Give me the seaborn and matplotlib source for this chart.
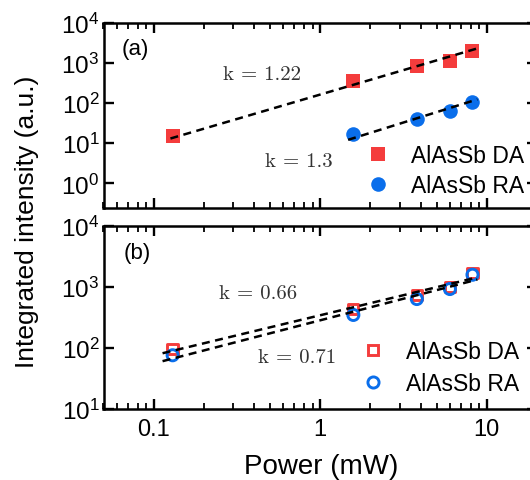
import numpy as np
import pandas as pd
import matplotlib
matplotlib.use("Agg")
import matplotlib.pyplot as plt
from matplotlib.lines import Line2D
import seaborn as sns

# ---------------- data ----------------
power_da = [0.13, 1.58, 3.8, 6.0, 8.2]
power_ra_a = [1.58, 3.8, 6.0, 8.2]
power_ra_b = [0.13, 1.58, 3.8, 6.0, 8.2]

intensity_a_da = [15, 350, 850, 1150, 2000]
intensity_a_ra = [17, 40, 65, 110]
intensity_b_da = [95, 430, 740, 1000, 1700]
intensity_b_ra = [75, 345, 630, 920, 1580]

k_a = [1.22, 1.3]
k_b = [0.66, 0.71]
series_labels = ["AlAsSb DA", "AlAsSb RA"]
x_ticks = [0.1, 1, 10]
x_tick_labels = ["0.1", "1", "10"]

RED = "#f43c3c"
BLUE = "#0a6eeb"

# ---------------- style ----------------
sns.set_style("ticks")
plt.rcParams["font.family"] = ["Liberation Sans", "DejaVu Sans"]
plt.rcParams["mathtext.fontset"] = "custom"
plt.rcParams["mathtext.rm"] = "Liberation Sans"
plt.rcParams["mathtext.it"] = "Liberation Sans:italic"
plt.rcParams["mathtext.bf"] = "Liberation Sans:bold"
plt.rcParams["axes.linewidth"] = 1.8
plt.rcParams["axes.edgecolor"] = "black"
plt.rcParams["xtick.color"] = "black"
plt.rcParams["ytick.color"] = "black"
plt.rcParams["text.color"] = "black"
plt.rcParams["xtick.labelcolor"] = "black"
plt.rcParams["ytick.labelcolor"] = "black"

W, H = 530, 481
fig = plt.figure(figsize=(W / 100, H / 100), dpi=100)
left, right = 103.5, 537
ax1 = fig.add_axes([left / W, 1 - 208.5 / H, (right - left) / W, (208.5 - 24) / H])
ax2 = fig.add_axes([left / W, 1 - 409.5 / H, (right - left) / W, (409.5 - 227) / H])


def fit_line(ax, x, y, k, lo=0.9, hi=1.07):
    lx = np.log10(np.asarray(x, float))
    ly = np.log10(np.asarray(y, float))
    b = np.mean(ly - k * lx)
    xs = np.array([min(x) * lo, max(x) * hi])
    df = pd.DataFrame({"x": xs, "y": 10 ** (b + k * np.log10(xs))})
    sns.lineplot(data=df, x="x", y="y", ax=ax, color="black", lw=1.8,
                 linestyle=(0, (3.2, 2.2)), zorder=5, legend=False)


# ---------------- panel (a) ----------------
da = pd.DataFrame({"x": power_da, "y": intensity_a_da})
ra = pd.DataFrame({"x": power_ra_a, "y": intensity_a_ra})
sns.scatterplot(data=da, x="x", y="y", ax=ax1, marker="s", color=RED, s=92,
                linewidth=0, zorder=3, legend=False)
sns.scatterplot(data=ra, x="x", y="y", ax=ax1, marker="o", color=BLUE, s=110,
                linewidth=0, zorder=3, legend=False)
fit_line(ax1, power_da, intensity_a_da, k_a[0], lo=0.97)
fit_line(ax1, power_ra_a, intensity_a_ra, k_a[1], lo=0.93)

# ---------------- panel (b) ----------------
dbb = pd.DataFrame({"x": power_da, "y": intensity_b_da})
rbb = pd.DataFrame({"x": power_ra_b, "y": intensity_b_ra})
sns.scatterplot(data=dbb, x="x", y="y", ax=ax2, marker="s", s=55,
                facecolor="none", edgecolor=RED, linewidth=2.1, zorder=3, legend=False)
sns.scatterplot(data=rbb, x="x", y="y", ax=ax2, marker="o", s=64,
                facecolor="none", edgecolor=BLUE, linewidth=2.1, zorder=4, legend=False)
fit_line(ax2, power_da, intensity_b_da, k_b[0], lo=0.87)
fit_line(ax2, power_ra_b, intensity_b_ra, k_b[1], lo=0.87)

for ax, ylim in ((ax1, (0.25, 1e4)), (ax2, (10, 1e4))):
    ax.set_xscale("log")
    ax.set_yscale("log")
    ax.set_xlim(0.05, 20)
    ax.set_ylim(*ylim)
    ax.set_xlabel("")
    ax.set_ylabel("")
    ax.tick_params(which="both", direction="in", top=True, right=True)
    ax.tick_params(which="major", length=7, width=1.7, labelsize=17.5, pad=3)
    ax.tick_params(which="minor", length=4, width=1.3)
    ax.set_xticks(x_ticks)
    for s in ax.spines.values():
        s.set_linewidth(1.8)
        s.set_color("black")

ax1.set_yticks([1, 10, 100, 1000, 10000])
ax2.set_yticks([10, 100, 1000, 10000])
ax1.tick_params(axis="x", which="both", labelbottom=False)
ax2.set_xticklabels(x_tick_labels)
ax2.tick_params(axis="x", which="major", labelsize=17, pad=7)

# ---------------- texts ----------------
ktxt = dict(family="cmr10", fontsize=15, color="#333333", ha="center", va="center")
fig.text(262 / W, 1 - 75 / H, f"k = {k_a[0]}", **ktxt)
fig.text(299 / W, 1 - 162 / H, f"k = {k_a[1]}", **ktxt)
fig.text(258 / W, 1 - 294 / H, f"k = {k_b[0]:.2f}", **ktxt)
fig.text(297 / W, 1 - 358 / H, f"k = {k_b[1]:.2f}", **ktxt)

fig.text(135 / W, 1 - 50 / H, "(a)", fontsize=16, ha="center", va="center")
fig.text(137 / W, 1 - 253 / H, "(b)", fontsize=16, ha="center", va="center")

fig.text(27 / W, 1 - 222 / H, "Integrated intensity (a.u.)", rotation=90,
         fontsize=19, ha="center", va="center")
fig.text(321 / W, 1 - 467 / H, "Power (mW)", fontsize=20, ha="center", va="center")

# ---------------- legends ----------------
h_a = [Line2D([], [], ls="none", marker="s", ms=9.6, mfc=RED, mec=RED, mew=0),
       Line2D([], [], ls="none", marker="o", ms=10.5, mfc=BLUE, mec=BLUE, mew=0)]
h_b = [Line2D([], [], ls="none", marker="s", ms=7.4, mfc="none", mec=RED, mew=2.1),
       Line2D([], [], ls="none", marker="o", ms=8, mfc="none", mec=BLUE, mew=2.1)]
leg_kw = dict(loc="upper left", bbox_transform=fig.transFigure, frameon=False,
              borderpad=0, borderaxespad=0, handlelength=1.0, handletextpad=0.9,
              fontsize=16.5)
ax1.legend(h_a, series_labels, bbox_to_anchor=(367 / W, 1 - 145 / H),
           labelspacing=0.3, **leg_kw)
ax2.legend(h_b, series_labels, bbox_to_anchor=(362 / W, 1 - 341 / H),
           labelspacing=0.4, **leg_kw)

fig.savefig("out.png", dpi=100)
